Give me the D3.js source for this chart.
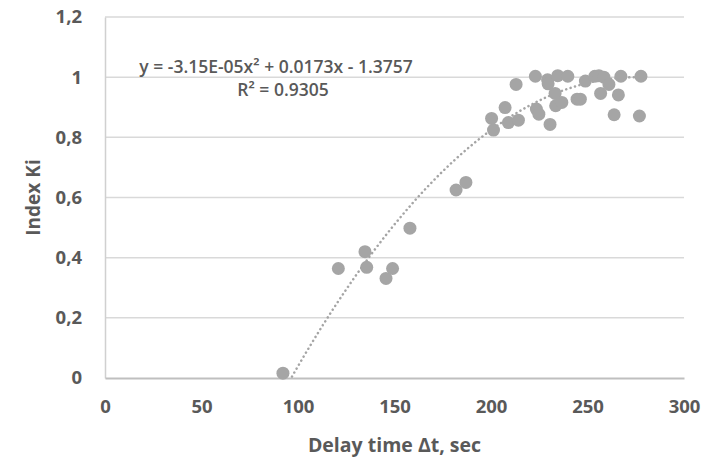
<!DOCTYPE html>
<html>
<head>
<meta charset="utf-8">
<script src="https://cdn.jsdelivr.net/npm/d3@7"></script>
<style>
  html, body { margin: 0; padding: 0; background: #fff; }
  svg { display: block; }
  text { font-family: "Open Sans", "Liberation Sans", sans-serif; font-weight: 700; fill: #595959; }
</style>
</head>
<body>
<svg id="chart" width="714" height="461"></svg>
<script>
// Data
const delayTime = [92.2, 120.9, 134.7, 135.6, 145.6, 149.0, 158.0, 181.9, 187.0,
  200.3, 201.3, 207.3, 209.0, 213.0, 214.2, 223.0, 223.5, 224.8, 229.3, 229.6, 230.6,
  233.2, 233.5, 234.6, 236.7, 239.8, 244.6, 246.3, 248.9, 253.8, 255.9, 256.8, 258.5,
  261.1, 263.8, 266.0, 267.3, 276.9, 277.7];
const indexKi = [0.016, 0.364, 0.42, 0.368, 0.331, 0.364, 0.498, 0.625, 0.65,
  0.863, 0.824, 0.899, 0.849, 0.976, 0.857, 1.003, 0.894, 0.877, 0.991, 0.978, 0.843,
  0.946, 0.905, 1.005, 0.916, 1.003, 0.927, 0.927, 0.987, 1.003, 1.005, 0.946, 1.0,
  0.976, 0.875, 0.941, 1.003, 0.871, 1.003];
const xTicks = [0, 50, 100, 150, 200, 250, 300];
const yTicks = [0, 0.2, 0.4, 0.6, 0.8, 1.0, 1.2];
const trendCoef = [-3.15e-5, 0.0173, -1.3757]; // a, b, c
const equationLabel = "y = -3.15E-05x² + 0.0173x - 1.3757";
const r2Label = "R² = 0.9305";
const xTitle = "Delay time Δt, sec";
const yTitle = "Index Ki";

const svg = d3.select("#chart");
const m = { left: 105, right: 30, top: 17, bottom: 83 };
const W = 714, H = 461;
const x = d3.scaleLinear().domain([0, 300]).range([m.left, W - m.right]);
const y = d3.scaleLinear().domain([0, 1.2]).range([H - m.bottom, m.top]);

const fmt = v => String(+v.toFixed(1)).replace(".", ",");

// gridlines
svg.append("g").selectAll("line").data(yTicks.filter(d => d > 0)).join("line")
  .attr("x1", x(0)).attr("x2", x(300))
  .attr("y1", d => y(d)).attr("y2", d => y(d))
  .attr("stroke", "#d9d9d9").attr("stroke-width", 1.5);

// axes
const yAxis = svg.append("g").attr("transform", `translate(${x(0)},0)`)
  .call(d3.axisLeft(y).tickValues(yTicks).tickFormat(fmt).tickSize(0).tickPadding(23));
yAxis.select(".domain").attr("stroke", "#d0d0d0").attr("stroke-width", 1.5);
yAxis.selectAll("text").style("font-size", "18.5px").attr("fill", "#595959");

const xAxis = svg.append("g").attr("transform", `translate(0,${y(0)})`)
  .call(d3.axisBottom(x).tickValues(xTicks).tickFormat(d3.format("d")).tickSize(0).tickPadding(22));
xAxis.select(".domain").attr("stroke", "#bfbfbf").attr("stroke-width", 2);
xAxis.selectAll("text").style("font-size", "18.5px").attr("fill", "#595959");

// trendline
const clipId = "plotclip";
svg.append("clipPath").attr("id", clipId).append("rect")
  .attr("x", x(0)).attr("y", y(1.2)).attr("width", x(300) - x(0)).attr("height", y(0) - y(1.2));
const xMin = d3.min(delayTime), xMax = d3.max(delayTime);
const trendPts = d3.range(0, 201).map(i => {
  const xv = xMin + (xMax - xMin) * i / 200;
  return [xv, trendCoef[0] * xv * xv + trendCoef[1] * xv + trendCoef[2]];
});
svg.append("path").datum(trendPts)
  .attr("clip-path", `url(#${clipId})`)
  .attr("d", d3.line().x(d => x(d[0])).y(d => y(d[1])))
  .attr("fill", "none").attr("stroke", "#a5a5a5").attr("stroke-width", 2.5)
  .attr("stroke-linecap", "round").attr("stroke-dasharray", "0.1,4.5");

// points
svg.append("g").selectAll("circle").data(delayTime.map((d, i) => [d, indexKi[i]])).join("circle")
  .attr("cx", d => x(d[0])).attr("cy", d => y(d[1])).attr("r", 6.5)
  .attr("fill", "#a5a5a5");

// equation
svg.append("text").attr("x", 276).attr("y", 73).attr("text-anchor", "middle")
  .style("font-size", "17.5px").style("font-weight", 600).text(equationLabel);
svg.append("text").attr("x", 283).attr("y", 96).attr("text-anchor", "middle")
  .style("font-size", "17.5px").style("font-weight", 600).text(r2Label);

// titles
svg.append("text").attr("x", x(150)).attr("y", 452).attr("text-anchor", "middle")
  .style("font-size", "19.5px").text(xTitle);
svg.append("text").attr("transform", `translate(40,${(y(0) + y(1.2)) / 2}) rotate(-90)`)
  .attr("text-anchor", "middle").style("font-size", "19px").text(yTitle);
</script>
</body>
</html>
